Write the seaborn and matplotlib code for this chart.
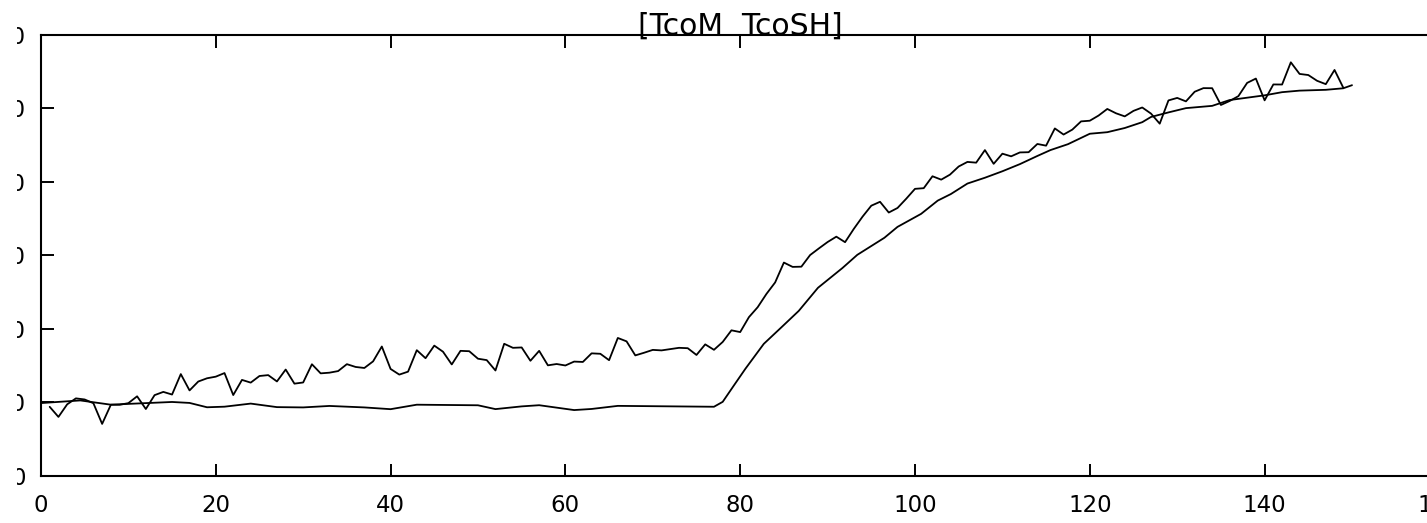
import numpy as np
import pandas as pd
import matplotlib
matplotlib.use("Agg")
import matplotlib.pyplot as plt
import seaborn as sns
from matplotlib.transforms import Bbox, TransformedBbox

# %% dados (serie ruidosa TcoM, uma leitura por passo)
tcom_t = np.arange(1, 150)
tcom = [
    9.40, 8.03, 9.74, 10.55, 10.40, 9.89, 7.08, 9.69, 9.68, 9.90,
    10.83, 9.10, 10.99, 11.43, 11.07, 13.85, 11.63, 12.84, 13.28, 13.50,
    13.99, 11.00, 13.06, 12.69, 13.59, 13.71, 12.85, 14.47, 12.55, 12.71,
    15.19, 13.95, 14.04, 14.26, 15.20, 14.82, 14.68, 15.58, 17.60, 14.55,
    13.78, 14.18, 17.10, 16.01, 17.72, 16.89, 15.16, 17.01, 16.96, 15.94,
    15.75, 14.34, 17.97, 17.42, 17.47, 15.66, 17.01, 15.04, 15.22, 15.02,
    15.55, 15.50, 16.67, 16.61, 15.74, 18.76, 18.30, 16.39, 16.75, 17.14,
    17.07, 17.25, 17.42, 17.37, 16.45, 17.89, 17.15, 18.22, 19.80, 19.56,
    21.59, 22.94, 24.74, 26.31, 29.01, 28.42, 28.45, 30.03, 30.93, 31.80,
    32.53, 31.78, 33.59, 35.25, 36.74, 37.27, 35.81, 36.43, 37.69, 39.03,
    39.12, 40.74, 40.28, 40.96, 42.07, 42.69, 42.59, 44.30, 42.43, 43.81,
    43.45, 43.98, 44.01, 45.13, 44.90, 47.24, 46.41, 47.08, 48.20, 48.29,
    48.99, 49.89, 49.30, 48.88, 49.63, 50.09, 49.26, 47.89, 51.05, 51.39,
    50.92, 52.23, 52.72, 52.71, 50.43, 50.97, 51.63, 53.43, 54.02, 51.06,
    53.22, 53.21, 56.23, 54.65, 54.50, 53.72, 53.26, 55.19, 52.78,
]

# %% serie suave TcoSH
tcosh_t = [
    0, 4.5, 8, 10, 15, 17, 19, 21, 24, 27, 30, 33, 37, 40, 43, 50, 52, 55,
    57, 61, 63, 66, 77, 78, 79.3, 80.6, 82.7, 84.7, 86.7, 88.9, 91.7, 93.4,
    96.5, 98, 100.7, 102.6, 104.1, 106, 108, 110, 112, 114, 115.5, 117.5,
    120, 122, 124, 126, 127, 129, 131, 134, 136, 140, 142, 144, 147, 149, 150,
]
tcosh = [
    9.91, 10.27, 9.69, 9.80, 10.06, 9.93, 9.34, 9.42, 9.84, 9.36, 9.32, 9.52,
    9.32, 9.08, 9.69, 9.61, 9.09, 9.46, 9.62, 8.96, 9.11, 9.53, 9.41, 10.08,
    12.34, 14.58, 17.96, 20.19, 22.44, 25.58, 28.27, 30.06, 32.38, 33.86,
    35.63, 37.43, 38.32, 39.75, 40.54, 41.42, 42.39, 43.50, 44.30, 45.10,
    46.52, 46.73, 47.30, 48.09, 48.80, 49.42, 50.00, 50.31, 51.10, 51.74,
    52.17, 52.38, 52.49, 52.70, 53.12,
]

x_ticks = [0, 20, 40, 60, 80, 100, 120, 140, 160]
y_ticks = [0, 10, 20, 30, 40, 50, 60]
titulo = "[TcoM  TcoSH]"

df_m = pd.DataFrame({"t": tcom_t, "valor": tcom})
df_sh = pd.DataFrame({"t": tcosh_t, "valor": tcosh})

# %% grafico
sns.set_style("ticks")
plt.rcParams["font.family"] = ["DejaVu Sans"]

fig = plt.figure(figsize=(14.27, 5.23), dpi=100)
ax = fig.add_axes([0.0287, 0.0899, 0.98, 0.844])

sns.lineplot(data=df_m, x="t", y="valor", color="black", linewidth=1.3,
             estimator=None, sort=False, ax=ax)
sns.lineplot(data=df_sh, x="t", y="valor", color="black", linewidth=1.3,
             estimator=None, sort=False, ax=ax)

ax.set_xlim(0, 160)
ax.set_ylim(0, 60)
ax.set_xticks(x_ticks)
ax.set_yticks(y_ticks)
ax.set_xlabel("")
ax.set_ylabel("")
ax.set_title(titulo, fontsize=21.5, pad=0, color="black")

for s in ax.spines.values():
    s.set_visible(True)
    s.set_linewidth(1.5)
    s.set_color("black")

ax.tick_params(direction="in", length=9, width=1.4, top=True, right=True,
               labelsize=16.5, colors="black")
ax.tick_params(axis="x", pad=13)
ax.tick_params(axis="y", pad=11)

# os rotulos do eixo y aparecem cortados na borda esquerda
clip = TransformedBbox(Bbox([[17 / 1427, 0], [1, 1]]), fig.transFigure)
for lab in ax.get_yticklabels():
    lab.set_clip_box(clip)
    lab.set_clip_on(True)

fig.savefig("out.png", dpi=100)
